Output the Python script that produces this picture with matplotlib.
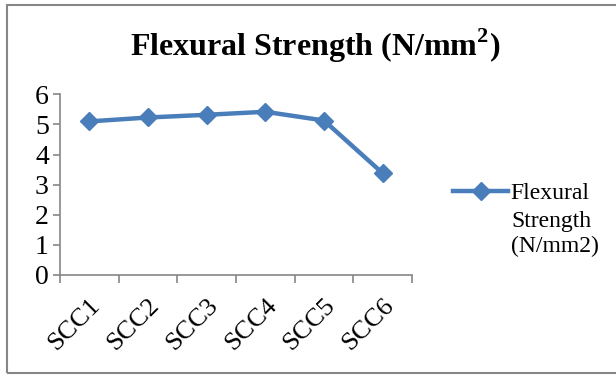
import matplotlib.pyplot as plt
import numpy as np
from matplotlib.patches import Rectangle
from matplotlib.transforms import ScaledTranslation

mixes = ["SCC1", "SCC2", "SCC3", "SCC4", "SCC5", "SCC6"]
flexural = [5.1, 5.23, 5.32, 5.42, 5.13, 3.38]

plt.rcParams["font.family"] = ["Liberation Serif", "DejaVu Serif"]
plt.rcParams["mathtext.fontset"] = "custom"
plt.rcParams["mathtext.rm"] = "Liberation Serif"
plt.rcParams["mathtext.bf"] = "Liberation Serif:bold"
grey = "#868686"
blue = "#4A7EBB"

fig = plt.figure(figsize=(6.16, 3.75), dpi=100)
ax = fig.add_axes([0.0974, 0.2667, 0.5714, 0.4818])

x = np.arange(len(mixes))
ax.plot(x, flexural, color=blue, linewidth=3.2, marker="D", markersize=9.5,
        label="Flexural")

ax.set_xlim(-0.5, len(mixes) - 0.5)
ax.set_ylim(0, 6)
ax.set_yticks(range(0, 7))
ax.set_xticks(x)
ax.set_xticklabels(mixes, rotation=45, ha="right", va="top",
                   rotation_mode="anchor", fontsize=19)
shift = ScaledTranslation(3 / 100, -7 / 100, fig.dpi_scale_trans)
for lbl in ax.get_xticklabels():
    lbl.set_transform(lbl.get_transform() + shift)
ax.set_xticks(np.arange(-0.5, len(mixes)), minor=True)
ax.tick_params(axis="x", which="major", length=0, pad=14)
ax.tick_params(axis="x", which="minor", length=6, width=1.2, color=grey)
ax.tick_params(axis="y", length=5, width=1.2, color=grey, labelsize=20, pad=3)

for s in ["top", "right"]:
    ax.spines[s].set_visible(False)
for s in ["left", "bottom"]:
    ax.spines[s].set_color(grey)
    ax.spines[s].set_linewidth(1.2)

fig.text(0.512, 0.877, r"Flexural Strength (N/mm$^{\mathbf{2}}$)", ha="center", va="center",
         fontsize=23, fontweight="bold")

leg = fig.legend(loc="center left", bbox_to_anchor=(0.717, 0.485), frameon=False,
                 fontsize=17, handlelength=2.3, handletextpad=0.1, borderpad=0)
fig.text(0.8295, 0.376, "Strength\n(N/mm2)", ha="left", va="center",
         fontsize=17, linespacing=1.2)

fig.patches.append(Rectangle((0.011, 0.0053), 1.0, 0.9814, transform=fig.transFigure,
                             fill=False, edgecolor=grey, linewidth=1.5))

plt.savefig("out.png", dpi=100)
